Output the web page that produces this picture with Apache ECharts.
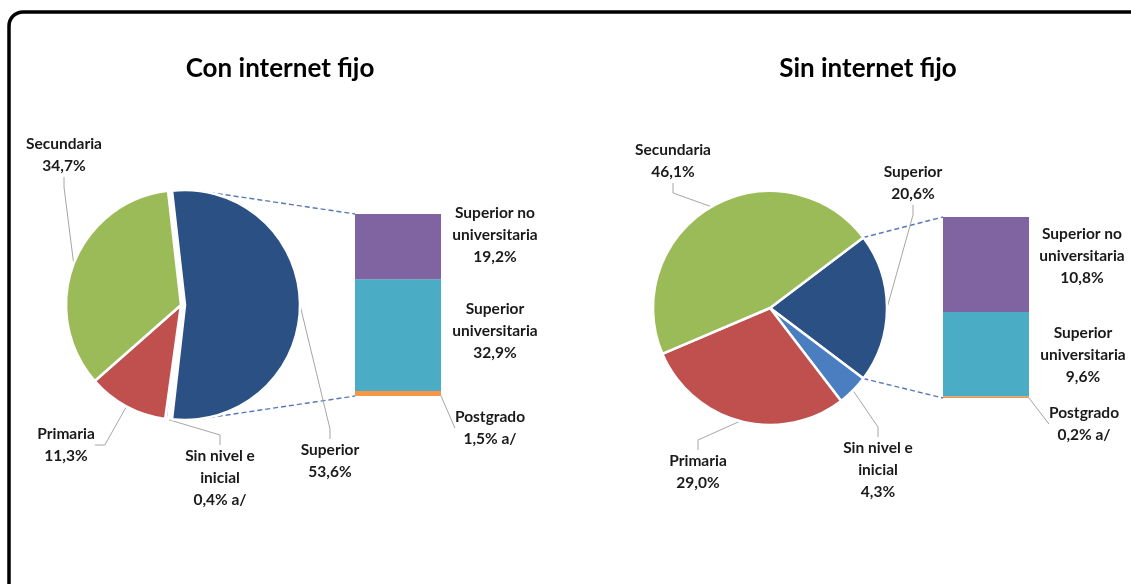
<!DOCTYPE html>
<html>
<head>
<meta charset="utf-8">
<script src="https://cdn.jsdelivr.net/npm/echarts@6/dist/echarts.min.js"></script>
<style>
  html, body { margin: 0; padding: 0; background: #fff; }
  #main { width: 1131px; height: 584px; }
</style>
</head>
<body>
<div id="main"></div>
<script>
// datos de los gráficos
var titulos = ['Con internet fijo', 'Sin internet fijo'];
var niveles = ['Superior', 'Sin nivel e\ninicial', 'Primaria', 'Secundaria'];
var conFijo = [53.6, 0.4, 11.3, 34.7];
var sinFijo = [20.6, 4.3, 29.0, 46.1];
var conNota = ['', ' a/', '', ''];
var sinNota = ['', '', '', ''];
// desglose de "Superior" (de abajo hacia arriba)
var nivelesSup = ['Postgrado', 'Superior\nuniversitaria', 'Superior no\nuniversitaria'];
var conFijoSup = [1.5, 32.9, 19.2];
var sinFijoSup = [0.2, 9.6, 10.8];
var conNotaSup = [' a/', '', ''];
var sinNotaSup = [' a/', '', ''];

var coloresPie = ['#2b5184', '#4a7ec0', '#c0504d', '#9bbb59'];
var coloresBar = ['#f79646', '#4bacc6', '#8064a2'];
var FUENTE = 'Lato';

function fmt(v) {
    return v.toFixed(1).replace('.', ',') + '%';
}

// disposición de cada panel
var paneles = [
    {
        titulo: titulos[0], tx: 280, valores: conFijo, notas: conNota,
        sup: conFijoSup, notasSup: conNotaSup,
        cx: 181, cy: 305, r: 115, off: 4,
        grid: { left: 355, top: 214, width: 86, height: 182 },
        pieLab: [[330, 461], [220, 478], [66, 445], [64, 155]],
        barLab: [[490, 428], [495, 331], [495, 235]]
    },
    {
        titulo: titulos[1], tx: 868, valores: sinFijo, notas: sinNota,
        sup: sinFijoSup, notasSup: sinNotaSup,
        cx: 770, cy: 308, r: 117, off: 0,
        grid: { left: 943, top: 217, width: 86, height: 181 },
        pieLab: [[913, 183], [878, 470], [698, 472], [673, 161]],
        barLab: [[1084, 424], [1083, 355], [1082, 256]]
    }
];

var textoBase = {
    fontFamily: FUENTE,
    fontWeight: 'bold',
    fontSize: 15.5,
    lineHeight: 22,
    color: '#1a1a1a',
    align: 'center'
};
var guia = { color: '#a6a6a6', width: 1 };

// líneas punteadas entre la porción "Superior" y la barra
function conectores(p) {
    var half = p.valores[0] * 3.6 / 2 * Math.PI / 180;
    var sx = p.cx + p.off, sy = p.cy;
    var esquinas = [[p.grid.left, p.grid.top], [p.grid.left, p.grid.top + p.grid.height]];
    return esquinas.map(function (e, j) {
        var dx = e[0] - sx, dy = sy - e[1];
        var d = Math.sqrt(dx * dx + dy * dy);
        var dir = Math.atan2(dy, dx);
        var tang = dir + (j === 0 ? 1 : -1) * Math.acos(p.r / d);
        var ang = j === 0 ? Math.min(half, tang) : Math.max(-half, tang);
        return {
            type: 'line',
            shape: { x1: sx + p.r * Math.cos(ang), y1: sy - p.r * Math.sin(ang), x2: e[0], y2: e[1] },
            style: { stroke: '#5a78b8', lineWidth: 1.4, lineDash: [5, 3] },
            silent: true
        };
    });
}

// una serie de torta; "solo" indica qué porciones se ven en ella
function torta(p, cx, solo) {
    return {
        type: 'pie',
        center: [cx, p.cy],
        radius: p.r,
        startAngle: p.valores[0] * 3.6 / 2,
        clockwise: true,
        avoidLabelOverlap: false,
        silent: true,
        itemStyle: { borderColor: '#fff', borderWidth: 2.5 },
        label: Object.assign({
            show: true,
            formatter: function (params) {
                return params.name + '\n' + fmt(params.value) + p.notas[params.dataIndex];
            }
        }, textoBase),
        labelLine: { show: true, length: 10, length2: 10, lineStyle: guia },
        labelLayout: function (params) {
            var pos = p.pieLab[params.dataIndex];
            return { x: pos[0], y: pos[1], align: 'center', verticalAlign: 'middle' };
        },
        data: niveles.map(function (n, k) {
            var ver = solo(k);
            return {
                name: n,
                value: p.valores[k],
                itemStyle: ver ? { color: coloresPie[k] } : { color: 'rgba(0,0,0,0)', borderWidth: 0 },
                label: { show: ver },
                labelLine: { show: ver }
            };
        })
    };
}

var series = [], grids = [], xAxes = [], yAxes = [];
var graficos = [{
    type: 'rect',
    shape: { x: 9, y: 12, width: 1180, height: 640, r: 14 },
    style: { fill: 'none', stroke: '#000', lineWidth: 3.5 },
    z: 100, silent: true
}];

paneles.forEach(function (p, i) {
    graficos.push({
        type: 'text', x: p.tx, y: 69,
        style: {
            text: p.titulo, fontFamily: FUENTE, fontWeight: 'bold', fontSize: 26,
            fill: '#000', align: 'center', verticalAlign: 'middle'
        }
    });
    graficos = graficos.concat(conectores(p));

    if (p.off > 0) {
        // porción "Superior" separada del resto
        series.push(torta(p, p.cx, function (k) { return k > 0; }));
        series.push(torta(p, p.cx + p.off, function (k) { return k === 0; }));
    } else {
        series.push(torta(p, p.cx, function () { return true; }));
    }

    var total = p.sup.reduce(function (a, b) { return a + b; }, 0);
    grids.push(p.grid);
    xAxes.push({ type: 'category', gridIndex: i, data: [''], show: false });
    yAxes.push({ type: 'value', gridIndex: i, min: 0, max: total, show: false });

    nivelesSup.forEach(function (n, k) {
        series.push({
            type: 'bar',
            name: n,
            xAxisIndex: i,
            yAxisIndex: i,
            stack: 'sup' + i,
            barWidth: '100%',
            silent: true,
            itemStyle: { color: coloresBar[k] },
            label: Object.assign({
                show: true,
                formatter: n + '\n' + fmt(p.sup[k]) + p.notasSup[k]
            }, textoBase),
            labelLine: { show: k === 0, lineStyle: guia },
            labelLayout: { x: p.barLab[k][0], y: p.barLab[k][1], align: 'center', verticalAlign: 'middle' },
            data: [p.sup[k]]
        });
    });
});

var chart = echarts.init(document.getElementById('main'));
chart.setOption({
    animation: false,
    backgroundColor: '#fff',
    grid: grids,
    xAxis: xAxes,
    yAxis: yAxes,
    graphic: graficos,
    series: series
});

window.onresize = function () {
    chart.resize();
};
</script>
</body>
</html>
